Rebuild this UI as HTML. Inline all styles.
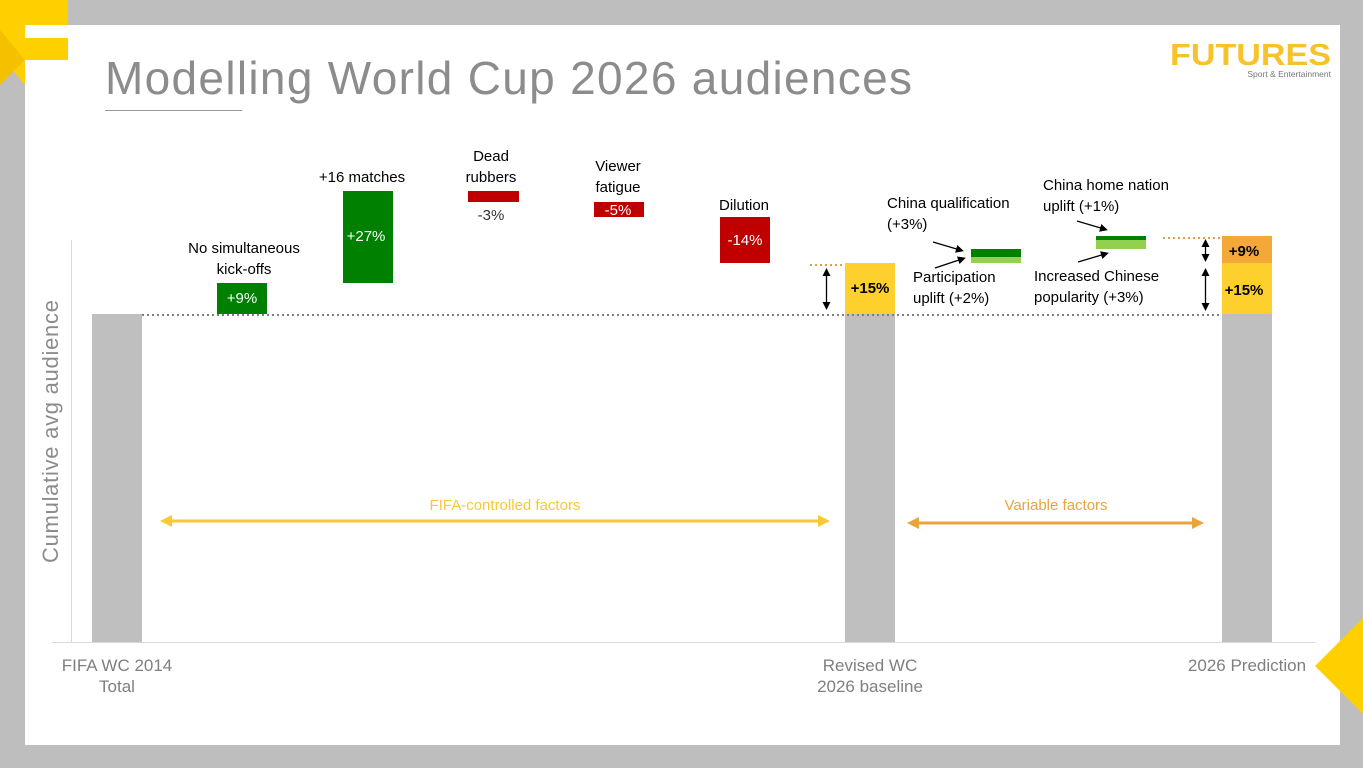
<!DOCTYPE html>
<html><head><meta charset="utf-8"><style>
html,body{margin:0;padding:0;width:1363px;height:768px;overflow:hidden;background:#bebebe}
text{font-family:"Liberation Sans",sans-serif}
</style></head><body>
<svg width="1363" height="768" viewBox="0 0 1363 768" xmlns="http://www.w3.org/2000/svg">
<defs>
<marker id="ab" markerWidth="8" markerHeight="8" refX="4" refY="4" orient="auto-start-reverse" markerUnits="userSpaceOnUse"><path d="M0,0 L8,4 L0,8 z" fill="#000"/></marker>
<marker id="ay" markerWidth="12" markerHeight="12" refX="6" refY="6" orient="auto-start-reverse" markerUnits="userSpaceOnUse"><path d="M0,0 L12,6 L0,12 z" fill="#f7c936"/></marker>
<marker id="ao" markerWidth="12" markerHeight="12" refX="6" refY="6" orient="auto-start-reverse" markerUnits="userSpaceOnUse"><path d="M0,0 L12,6 L0,12 z" fill="#eba43c"/></marker>
</defs>
<rect width="1363" height="768" fill="#bebebe"/>
<polygon points="0,0 68,0 68,60 25,60 25,85 0,55" fill="#ffd000"/>
<polygon points="0,30 25,60 0,85" fill="#f5c000"/>
<rect x="25" y="25" width="1315" height="720" fill="#fff"/>
<rect x="25" y="38" width="43" height="22" fill="#ffd000"/>
<polygon points="1363,618 1315,666 1363,714" fill="#ffd000"/>
<text x="105" y="94" font-size="46" fill="#8c8c8c" textLength="807" lengthAdjust="spacing">Modelling World Cup 2026 audiences</text>
<line x1="105" y1="110.5" x2="242" y2="110.5" stroke="#999" stroke-width="1"/>
<text x="1170" y="65" font-size="31" font-weight="bold" fill="#f8c22a" textLength="161" lengthAdjust="spacingAndGlyphs">FUTURES</text>
<text x="1331" y="77" font-size="8.5" fill="#777" text-anchor="end">Sport &amp; Entertainment</text>
<line x1="71.5" y1="240" x2="71.5" y2="642" stroke="#d9d9d9"/>
<line x1="52" y1="642.5" x2="1315" y2="642.5" stroke="#d9d9d9"/>
<text transform="translate(58,563) rotate(-90)" font-size="22" fill="#8c8c8c" textLength="263" lengthAdjust="spacing">Cumulative avg audience</text>
<rect x="92" y="314" width="50" height="328" fill="#bfbfbf"/>
<rect x="845" y="314" width="50" height="328" fill="#bfbfbf"/>
<rect x="1222" y="314" width="50" height="328" fill="#bfbfbf"/>
<rect x="845" y="263" width="50" height="51" fill="#fdd02e"/>
<rect x="1222" y="263" width="50" height="51" fill="#fdd02e"/>
<rect x="1222" y="236" width="50" height="27" fill="#f5a83a"/>
<rect x="217" y="283" width="50" height="31" fill="#008000"/>
<rect x="343" y="191" width="50" height="92" fill="#008000"/>
<rect x="468" y="191" width="51" height="11" fill="#c00000"/>
<rect x="594" y="202" width="50" height="15" fill="#c00000"/>
<rect x="720" y="217" width="50" height="46" fill="#c00000"/>
<rect x="971" y="249" width="50" height="8" fill="#008000"/>
<rect x="971" y="257" width="50" height="6" fill="#92d050"/>
<rect x="1096" y="236" width="50" height="4" fill="#008000"/>
<rect x="1096" y="240" width="50" height="9" fill="#92d050"/>
<line x1="142" y1="315" x2="1222" y2="315" stroke="#7f7f7f" stroke-width="2" stroke-dasharray="2,3"/>
<line x1="810" y1="265" x2="845" y2="265" stroke="#e0a040" stroke-width="2" stroke-dasharray="2,3"/>
<line x1="1163" y1="238" x2="1220" y2="238" stroke="#e0a040" stroke-width="2" stroke-dasharray="2,3"/>
<line x1="826.5" y1="272" x2="826.5" y2="306" stroke="#000" stroke-width="1.3" marker-start="url(#ab)" marker-end="url(#ab)"/>
<line x1="1205.5" y1="243" x2="1205.5" y2="258" stroke="#000" stroke-width="1.3" marker-start="url(#ab)" marker-end="url(#ab)"/>
<line x1="1205.5" y1="272" x2="1205.5" y2="307" stroke="#000" stroke-width="1.3" marker-start="url(#ab)" marker-end="url(#ab)"/>
<line x1="933" y1="242" x2="960" y2="250" stroke="#000" stroke-width="1.3" marker-end="url(#ab)"/>
<line x1="935" y1="268" x2="962" y2="259" stroke="#000" stroke-width="1.3" marker-end="url(#ab)"/>
<line x1="1077" y1="221" x2="1104" y2="229" stroke="#000" stroke-width="1.3" marker-end="url(#ab)"/>
<line x1="1078" y1="262" x2="1105" y2="254" stroke="#000" stroke-width="1.3" marker-end="url(#ab)"/>
<line x1="166" y1="521" x2="824" y2="521" stroke="#f7c936" stroke-width="3" marker-start="url(#ay)" marker-end="url(#ay)"/>
<line x1="913" y1="523" x2="1198" y2="523" stroke="#eba43c" stroke-width="3" marker-start="url(#ao)" marker-end="url(#ao)"/>
<g font-size="15" fill="#000" text-anchor="middle">
<text x="244" y="253">No simultaneous</text><text x="244" y="274">kick-offs</text>
<text x="362" y="182">+16 matches</text>
<text x="491" y="161">Dead</text><text x="491" y="182">rubbers</text>
<text x="491" y="220" fill="#333">-3%</text>
<text x="618" y="171">Viewer</text><text x="618" y="192">fatigue</text>
<text x="744" y="210">Dilution</text>
<text x="242" y="303" fill="#fff">+9%</text>
<text x="366" y="241" fill="#fff">+27%</text>
<text x="618" y="215" fill="#fff">-5%</text>
<text x="745" y="245" fill="#fff">-14%</text>
<text x="870" y="293" font-weight="bold">+15%</text>
<text x="1244" y="256" font-weight="bold">+9%</text>
<text x="1244" y="295" font-weight="bold">+15%</text>
</g>
<g font-size="15" fill="#000">
<text x="887" y="208">China qualification</text><text x="887" y="229">(+3%)</text>
<text x="913" y="282">Participation</text><text x="913" y="303">uplift (+2%)</text>
<text x="1043" y="190">China home nation</text><text x="1043" y="211">uplift (+1%)</text>
<text x="1034" y="281">Increased Chinese</text><text x="1034" y="302">popularity (+3%)</text>
</g>
<text x="505" y="510" font-size="15" fill="#f7c936" text-anchor="middle">FIFA-controlled factors</text>
<text x="1056" y="510" font-size="15" fill="#eba43c" text-anchor="middle">Variable factors</text>
<g font-size="17" fill="#7f7f7f" text-anchor="middle">
<text x="117" y="671">FIFA WC 2014</text><text x="117" y="692">Total</text>
<text x="870" y="671">Revised WC</text><text x="870" y="692">2026 baseline</text>
<text x="1247" y="671">2026 Prediction</text>
</g>
</svg>
</body></html>
